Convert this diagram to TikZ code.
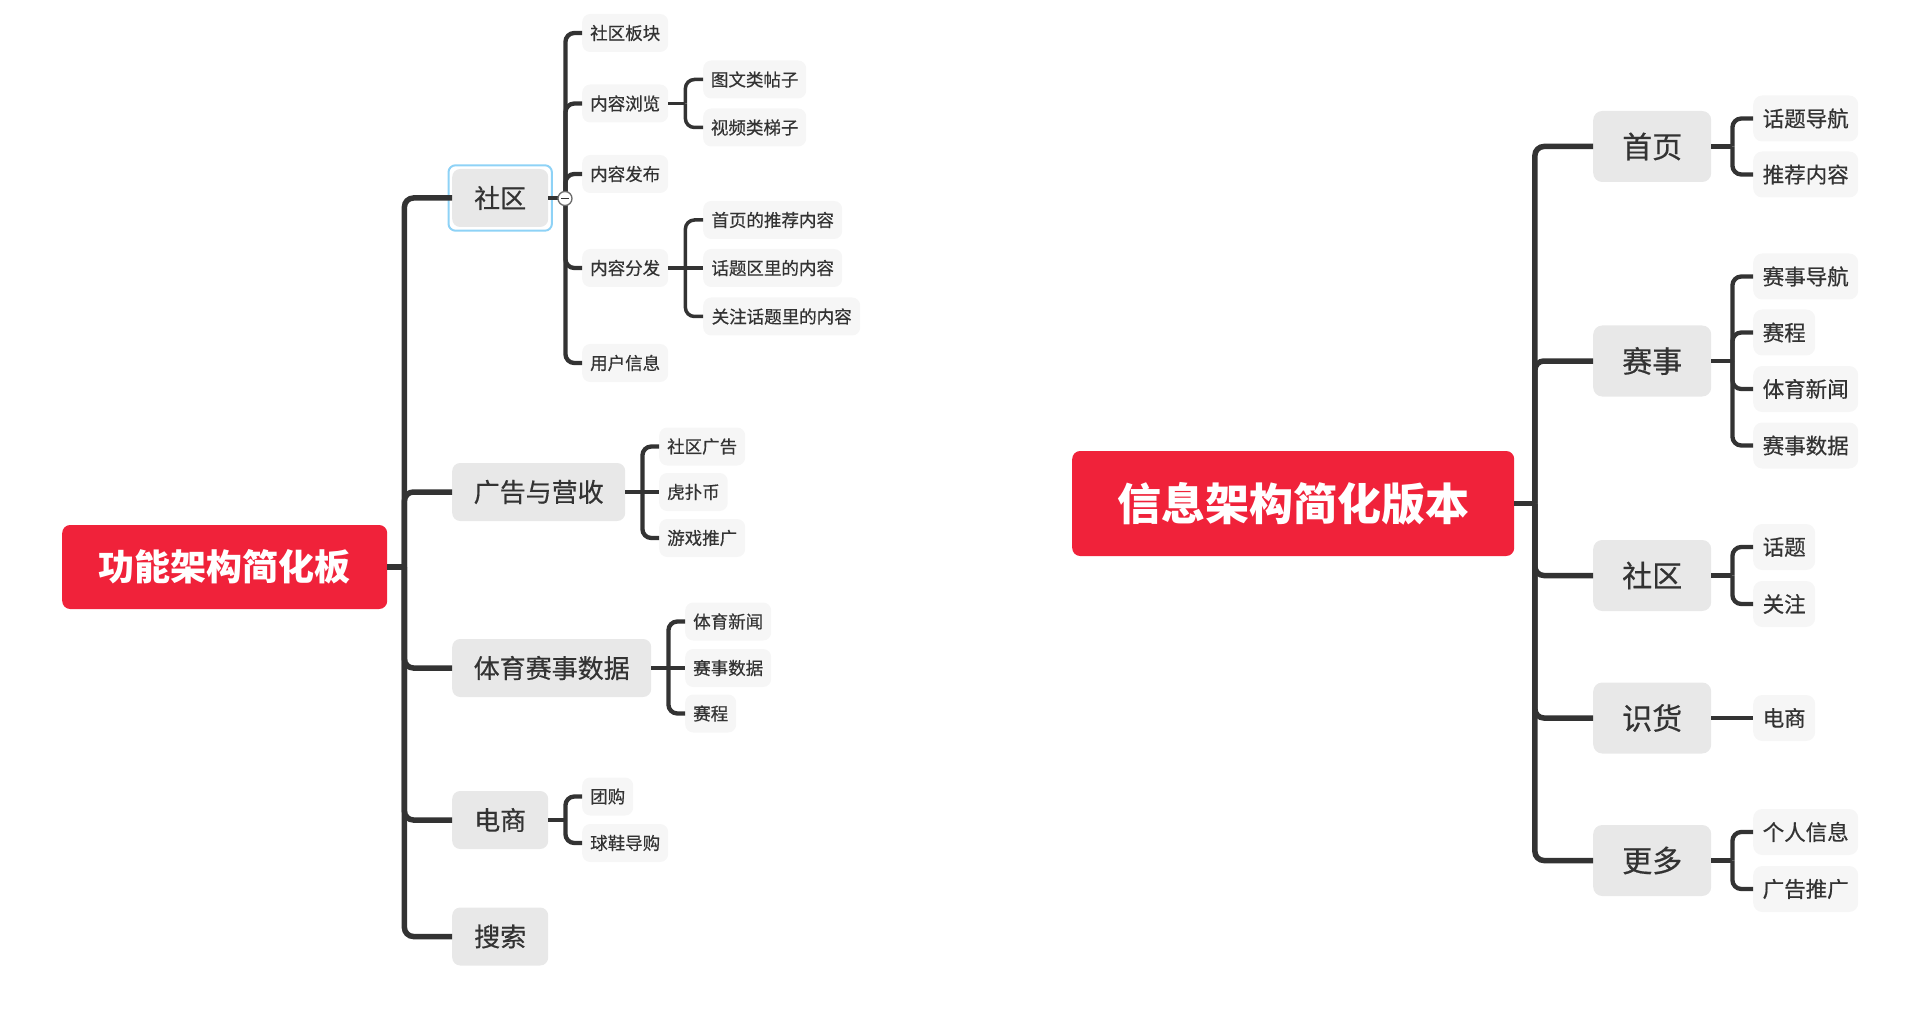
\documentclass[tikz,border=0pt]{standalone}
\usepackage{fontspec}
\setmainfont{Noto Sans CJK SC}
\newfontfamily\medfont{Noto Sans CJK SC}[FakeBold=0.5]
\usetikzlibrary{fit}
\definecolor{rootred}{HTML}{F0223A}
\definecolor{lvtwo}{HTML}{E8E8E8}
\definecolor{lvthree}{HTML}{F6F6F6}
\definecolor{ink}{HTML}{333333}
\definecolor{wire}{HTML}{333333}
\definecolor{selblue}{HTML}{8ED2F6}
\newcommand\fsz[1]{\fontsize{#1}{#1}\selectfont}
\tikzset{
  boxbase/.style={anchor=west, inner sep=0pt, text=ink},
  rootbox/.style={boxbase, fill=rootred, text=white, rounded corners=8pt, font=\fsz{#1}\bfseries},
  ltwo/.style={boxbase, fill=lvtwo, rounded corners=8pt, minimum height=58pt, font=\medfont\fsz{26}},
  lthree/.style={boxbase, fill=lvthree, rounded corners=8pt, minimum height=38pt, font=\medfont\fsz{17.5}},
  rtwo/.style={boxbase, fill=lvtwo, rounded corners=9pt, minimum height=71pt, minimum width=118pt, font=\medfont\fsz{30}},
  rthree/.style={boxbase, fill=lvthree, rounded corners=9pt, minimum height=46pt, font=\medfont\fsz{21.5}},
  wone/.style={draw=wire, line width=5.5pt},
  wtwo/.style={draw=wire, line width=4.3pt},
  wthree/.style={draw=wire, line width=3.5pt},
}
% style, parent, child, horizontal offset of the vertical bar
\newcommand\br[4]{%
  \draw[#1] (#2.east) -- ++(#4,0);
  \draw[#1,rounded corners=9pt] (#2.east) ++(#4,0) |- (#3.west);}
\newcommand\brs[3]{\draw[#1] (#2.east) -- (#3.west);}
\begin{document}
\begin{tikzpicture}[x=1pt,y=-1pt]
\useasboundingbox (0,0) rectangle (1920,1016);

% ---------------- left tree ----------------
\node[rootbox=36, minimum width=325pt, minimum height=84pt] (L) at (62,567) {功能架构简化板};

\node[ltwo, minimum width=96pt]  (la) at (452,198) {社区};
\node[ltwo, minimum width=173pt] (lb) at (452,492) {广告与营收};
\node[ltwo, minimum width=199pt] (lc) at (452,668) {体育赛事数据};
\node[ltwo, minimum width=96pt]  (ld) at (452,820) {电商};
\node[ltwo, minimum width=96pt]  (le) at (452,936.5) {搜索};
\node[fit=(la), inner sep=3.5pt, draw=selblue, line width=2pt, rounded corners=7pt] (sel) {};

\node[lthree, minimum width=86pt] (la1) at (582,33) {社区板块};
\node[lthree, minimum width=86pt] (la2) at (582,103.5) {内容浏览};
\node[lthree, minimum width=86pt] (la3) at (582,174) {内容发布};
\node[lthree, minimum width=86pt] (la4) at (582,268) {内容分发};
\node[lthree, minimum width=86pt] (la5) at (582,363) {用户信息};

\node[lthree, minimum width=103pt] (la21) at (703,79.5) {图文类帖子};
\node[lthree, minimum width=103pt] (la22) at (703,127.5) {视频类梯子};
\node[lthree, minimum width=139pt] (la41) at (703,220) {首页的推荐内容};
\node[lthree, minimum width=139pt] (la42) at (703,268) {话题区里的内容};
\node[lthree, minimum width=157pt] (la43) at (703,316.5) {关注话题里的内容};

\node[lthree, minimum width=86pt]   (lb1) at (659,446.5) {社区广告};
\node[lthree, minimum width=68.5pt] (lb2) at (659,492) {虎扑币};
\node[lthree, minimum width=86pt]   (lb3) at (659,538) {游戏推广};

\node[lthree, minimum width=86pt] (lc1) at (685,621.5) {体育新闻};
\node[lthree, minimum width=86pt] (lc2) at (685,668) {赛事数据};
\node[lthree, minimum width=51pt] (lc3) at (685,713.5) {赛程};

\node[lthree, minimum width=51pt] (ld1) at (582,796.5) {团购};
\node[lthree, minimum width=86pt] (ld2) at (582,843) {球鞋导购};

\br{wone}{L}{la}{17} \br{wone}{L}{lb}{17} \br{wone}{L}{lc}{17}
\br{wone}{L}{ld}{17} \br{wone}{L}{le}{17}

\br{wtwo}{la}{la1}{17} \br{wtwo}{la}{la2}{17} \br{wtwo}{la}{la3}{17}
\br{wtwo}{la}{la4}{17} \br{wtwo}{la}{la5}{17}

\br{wthree}{la2}{la21}{17} \br{wthree}{la2}{la22}{17}
\br{wthree}{la4}{la41}{17} \brs{wthree}{la4}{la42} \br{wthree}{la4}{la43}{17}

\br{wtwo}{lb}{lb1}{17} \brs{wtwo}{lb}{lb2} \br{wtwo}{lb}{lb3}{17}
\br{wtwo}{lc}{lc1}{17} \brs{wtwo}{lc}{lc2} \br{wtwo}{lc}{lc3}{17}
\br{wtwo}{ld}{ld1}{17} \br{wtwo}{ld}{ld2}{17}

\node[circle, draw=gray!85!black, fill=white, line width=1.3pt, minimum size=14pt, inner sep=0pt] (col) at (565,198.5) {};
\draw[gray!40!black, line width=1.3pt] ([xshift=-4pt]col.center) -- ([xshift=4pt]col.center);

% ---------------- right tree ----------------
\node[rootbox=44, minimum width=442pt, minimum height=105pt] (R) at (1072,503.5) {信息架构简化版本};

\node[rtwo] (ra) at (1593,146.5) {首页};
\node[rtwo] (rb) at (1593,361) {赛事};
\node[rtwo] (rc) at (1593,575.5) {社区};
\node[rtwo] (rd) at (1593,718) {识货};
\node[rtwo] (re) at (1593,860.5) {更多};

\node[rthree, minimum width=105pt] (ra1) at (1753,118.5) {话题导航};
\node[rthree, minimum width=105pt] (ra2) at (1753,174.5) {推荐内容};
\node[rthree, minimum width=105pt] (rb1) at (1753,276.5) {赛事导航};
\node[rthree, minimum width=62pt]  (rb2) at (1753,332.5) {赛程};
\node[rthree, minimum width=105pt] (rb3) at (1753,389) {体育新闻};
\node[rthree, minimum width=105pt] (rb4) at (1753,445.5) {赛事数据};
\node[rthree, minimum width=62pt]  (rc1) at (1753,547) {话题};
\node[rthree, minimum width=62pt]  (rc2) at (1753,604) {关注};
\node[rthree, minimum width=62pt]  (rd1) at (1753,718) {电商};
\node[rthree, minimum width=105pt] (re1) at (1753,832) {个人信息};
\node[rthree, minimum width=105pt] (re2) at (1753,889) {广告推广};

\br{wone}{R}{ra}{20.5} \br{wone}{R}{rb}{20.5} \br{wone}{R}{rc}{20.5}
\br{wone}{R}{rd}{20.5} \br{wone}{R}{re}{20.5}

\br{wtwo}{ra}{ra1}{21} \br{wtwo}{ra}{ra2}{21}
\br{wtwo}{rb}{rb1}{21} \br{wtwo}{rb}{rb2}{21} \br{wtwo}{rb}{rb3}{21} \br{wtwo}{rb}{rb4}{21}
\br{wtwo}{rc}{rc1}{21} \br{wtwo}{rc}{rc2}{21}
\brs{wtwo}{rd}{rd1}
\br{wtwo}{re}{re1}{21} \br{wtwo}{re}{re2}{21}
\end{tikzpicture}
\end{document}
